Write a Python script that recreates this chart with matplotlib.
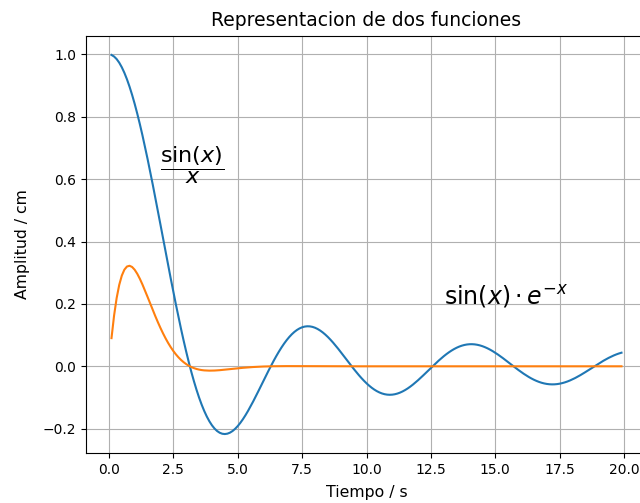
import numpy as np
import matplotlib
matplotlib.use("Agg")
import matplotlib.pyplot as plt

# time axis (s) and the two functions named on the chart
t = np.arange(0.1, 20.0, 0.1)
sinc = np.sin(t) / t
damped = np.sin(t) * np.exp(-t)

title = "Representacion de dos funciones"
xlabel = "Tiempo / s"
ylabel = "Amplitud / cm"

fig = plt.figure(figsize=(6.4, 5.03), dpi=100)
ax = fig.add_axes([86 / 640, 50 / 503, 561 / 640, 417 / 503])

ax.plot(t, sinc)
ax.plot(t, damped)

ax.text(2.0, 0.613, r"$\dfrac{\sin(x)}{x}$", fontsize=16)
ax.text(13.0, 0.2, r"$\sin(x)\cdot e^{-x}$", fontsize=17)

ax.set_title(title, fontsize=13.5, pad=7)
ax.set_xlabel(xlabel, fontsize=11.3, labelpad=6)
ax.set_ylabel(ylabel, fontsize=11.3, labelpad=9)
ax.grid(True)

fig.savefig("out.png")
